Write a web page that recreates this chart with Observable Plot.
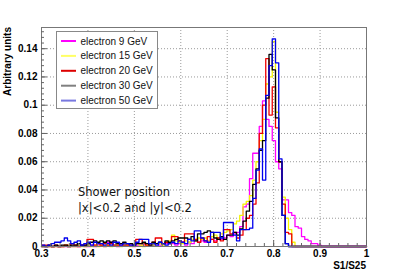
<!DOCTYPE html>
<html>
<head>
<meta charset="utf-8">
<script src="https://cdn.jsdelivr.net/npm/d3@7"></script>
<script src="https://cdn.jsdelivr.net/npm/@observablehq/plot@0.6"></script>
<style>
  html, body { margin: 0; padding: 0; background: #fff; }
  #chart { width: 407px; height: 275px; }
</style>
</head>
<body>
<div id="chart"></div>
<script>
// ---- data (bin contents, bins of width 0.007 starting at 0.3) ----
const binStart = 0.3;
const binWidth = 0.007;

const seriesNames = ["electron 9 GeV", "electron 15 GeV", "electron 20 GeV", "electron 30 GeV", "electron 50 GeV"];
const lineColors = ["#ff00ff", "#f4f400", "#ee0000", "#000000", "#0000ee"];
const legendColors = ["#ff00ff", "#ffff66", "#dd0000", "#808080", "#7878e0"];

const e9 = [
  0, 0, 0.001, 0, 0, 0, 0, 0, 0.001, 0,
  0, 0, 0.001, 0, 0, 0.001, 0, 0.001, 0.001, 0,
  0.003, 0.003, 0.001, 0, 0.001, 0.001, 0.002, 0.001, 0, 0.001,
  0.001, 0.001, 0.002, 0.001, 0.001, 0.002, 0.001, 0.002, 0.002, 0.002,
  0.002, 0.001, 0.002, 0.003, 0.001, 0.003, 0.002, 0.004, 0.003, 0.004,
  0.003, 0.004, 0.005, 0.004, 0.006, 0.005, 0.006, 0.008, 0.007, 0.009,
  0.010, 0.014, 0.028, 0.030, 0.048, 0.066, 0.066, 0.085, 0.103, 0.090,
  0.085, 0.075, 0.060, 0.055, 0.033, 0.033, 0.024, 0.022, 0.014, 0.013,
  0.007, 0.005, 0.004, 0.002, 0.002, 0.001, 0, 0, 0, 0,
  0, 0, 0, 0, 0, 0, 0, 0, 0, 0
];
const e15 = [
  0, 0, 0, 0, 0, 0, 0, 0.001, 0.001, 0,
  0, 0.001, 0, 0, 0.001, 0, 0.001, 0, 0.001, 0,
  0.001, 0, 0.001, 0.001, 0, 0.001, 0.001, 0, 0.001, 0.002,
  0.001, 0, 0.001, 0.002, 0.001, 0.002, 0.002, 0.001, 0.003, 0.004,
  0.008, 0.004, 0.003, 0.002, 0.004, 0.003, 0.005, 0.004, 0.006, 0.005,
  0.006, 0.004, 0.007, 0.008, 0.006, 0.009, 0.010, 0.011, 0.012, 0.016,
  0.018, 0.022, 0.030, 0.032, 0.036, 0.047, 0.060, 0.075, 0.090, 0.115,
  0.120, 0.145, 0.095, 0.060, 0.035, 0.020, 0.012, 0.003, 0, 0,
  0, 0, 0, 0, 0, 0, 0, 0, 0, 0,
  0, 0, 0, 0, 0, 0, 0, 0, 0, 0
];
const e20 = [
  0.001, 0.001, 0, 0, 0.001, 0, 0, 0.001, 0, 0.002,
  0.001, 0, 0.001, 0.001, 0.005, 0.005, 0.001, 0.002, 0.001, 0.002,
  0.001, 0.002, 0.001, 0.001, 0.002, 0.001, 0.001, 0.002, 0.001, 0.005,
  0.005, 0.002, 0.001, 0.002, 0.003, 0.006, 0.006, 0.002, 0.003, 0.002,
  0.007, 0.007, 0.004, 0.003, 0.009, 0.009, 0.009, 0.005, 0.003, 0.006,
  0.004, 0.007, 0.005, 0.003, 0.006, 0.004, 0.012, 0.012, 0.009, 0.010,
  0.006, 0.008, 0.012, 0.020, 0.022, 0.030, 0.045, 0.080, 0.100, 0.133,
  0.093, 0.113, 0.084, 0.060, 0.030, 0.010, 0.009, 0, 0, 0,
  0, 0, 0, 0, 0, 0, 0, 0, 0, 0,
  0, 0, 0, 0, 0, 0, 0, 0, 0, 0
];
const e30 = [
  0, 0, 0.001, 0, 0.001, 0, 0.001, 0.001, 0, 0.001,
  0.001, 0.002, 0.001, 0.001, 0.002, 0.003, 0.004, 0.003, 0.004, 0.003,
  0.004, 0.003, 0.004, 0.002, 0.002, 0.003, 0.002, 0.002, 0.001, 0.002,
  0.002, 0.003, 0.002, 0.001, 0.003, 0.002, 0.003, 0.002, 0.004, 0.003,
  0.004, 0.005, 0.006, 0.006, 0.006, 0.005, 0.007, 0.004, 0.009, 0.009,
  0.010, 0.011, 0.010, 0.006, 0.005, 0.007, 0.005, 0.008, 0.008, 0.010,
  0.008, 0.0125, 0.018, 0.025, 0.032, 0.044, 0.055, 0.068, 0.075, 0.105,
  0.136, 0.125, 0.091, 0.060, 0.022, 0.002, 0, 0, 0, 0,
  0, 0, 0, 0, 0, 0, 0, 0, 0, 0,
  0, 0, 0, 0, 0, 0, 0, 0, 0, 0
];
const e50 = [
  0.001, 0, 0.001, 0.002, 0.003, 0.003, 0.004, 0.006, 0.004, 0.002,
  0.003, 0.004, 0.001, 0.002, 0.003, 0.001, 0.003, 0.002, 0.002, 0.001,
  0.002, 0.001, 0.003, 0.003, 0.001, 0.002, 0.002, 0.001, 0.001, 0.003,
  0.005, 0.005, 0.005, 0.002, 0.002, 0.001, 0.003, 0.002, 0.001, 0.002,
  0.003, 0.002, 0.004, 0.003, 0.002, 0.005, 0.004, 0.011, 0.011, 0.006,
  0.004, 0.003, 0.010, 0.010, 0.010, 0.006, 0.017, 0.017, 0.017, 0.008,
  0.004, 0.012, 0.012, 0.012, 0.013, 0.034, 0.054, 0.069, 0.047, 0.107,
  0.128, 0.147, 0.130, 0.062, 0.022, 0.002, 0, 0, 0, 0,
  0, 0, 0, 0, 0, 0, 0, 0, 0, 0,
  0, 0, 0, 0, 0, 0, 0, 0, 0, 0
];
const seriesValues = [e9, e15, e20, e30, e50];

const xMajorTicks = [0.3, 0.4, 0.5, 0.6, 0.7, 0.8, 0.9, 1];
const xTickLabels = ["0.3", "0.4", "0.5", "0.6", "0.7", "0.8", "0.9", "1"];
const yMajorTicks = [0, 0.02, 0.04, 0.06, 0.08, 0.1, 0.12, 0.14];
const yTickLabels = ["0", "0.02", "0.04", "0.06", "0.08", "0.1", "0.12", "0.14"];
const xTitle = "S1/S25";
const yTitle = "Arbitrary units";
const noteLines = ["Shower position", "|x|<0.2 and |y|<0.2"];

// ---- build table ----
const rows = [];
seriesValues.forEach((vals, s) => {
  vals.forEach((v, k) => rows.push({series: seriesNames[s], x: binStart + k * binWidth, y: v}));
  rows.push({series: seriesNames[s], x: binStart + vals.length * binWidth, y: vals[vals.length - 1]});
});

const xMinor = d3.range(0.3, 1.0001, 0.02);
const yMinor = d3.range(0, 0.155, 0.004);
const xLab = new Map(xMajorTicks.map((t, i) => [t, xTickLabels[i]]));
const yLab = new Map(yMajorTicks.map((t, i) => [t, yTickLabels[i]]));

const W = 407, H = 275, mL = 41, mR = 41, mT = 27, mB = 29;

const chart = Plot.plot({
  width: W, height: H,
  marginLeft: mL, marginRight: mR, marginTop: mT, marginBottom: mB,
  x: {domain: [0.3, 1]},
  y: {domain: [0, 0.155]},
  style: {fontFamily: "Liberation Sans, Arial, sans-serif", fontSize: "10px", fontWeight: "bold", background: "#fff", color: "#000"},
  marks: [
    Plot.gridX(xMajorTicks.slice(1, -1), {stroke: "#9a9a9a", strokeOpacity: 1, strokeDasharray: "1,2"}),
    Plot.gridY(yMajorTicks.slice(1), {stroke: "#9a9a9a", strokeOpacity: 1, strokeDasharray: "1,2"}),
    ...seriesNames.map((name, s) => Plot.lineY(rows.filter(r => r.series === name), {
      x: "x", y: "y", curve: "step-after", stroke: lineColors[s], strokeWidth: 1.3
    })),
    Plot.frame({stroke: "#777"}),
    Plot.axisY(yMinor, {tickSize: -3, tickFormat: () => "", label: null, stroke: "#666"}),
    Plot.axisY(yMajorTicks, {tickSize: -6, tickFormat: () => "", label: null, stroke: "#666"}),
    Plot.axisY(yMajorTicks, {tickSize: 0, tickPadding: 4, tickFormat: d => yLab.get(d), label: null}),
    Plot.axisX(xMinor, {tickSize: -3, tickFormat: () => "", label: null, stroke: "#666"}),
    Plot.axisX(xMajorTicks, {tickSize: -6, tickFormat: () => "", label: null, stroke: "#666"}),
    Plot.axisX(xMajorTicks, {tickSize: 0, tickPadding: 3, tickFormat: d => xLab.get(d), label: null})
  ]
});
document.getElementById("chart").appendChild(chart);

// ---- titles, legend, annotation ----
const svg = d3.select(chart);
svg.append("text")
  .attr("transform", `translate(11,${mT}) rotate(-90)`)
  .attr("text-anchor", "end")
  .style("font", "bold 10px 'Liberation Sans', Arial, sans-serif")
  .text(yTitle);
svg.append("text")
  .attr("x", W - mR).attr("y", 269)
  .attr("text-anchor", "end")
  .style("font", "bold 10px 'Liberation Sans', Arial, sans-serif")
  .text(xTitle);

const lg = svg.append("g");
lg.append("rect").attr("x", 56.5).attr("y", 31.5).attr("width", 101).attr("height", 77)
  .attr("fill", "#fff").attr("stroke", "#888");
seriesNames.forEach((name, i) => {
  const yy = 41 + i * 14.9;
  lg.append("line").attr("x1", 61).attr("x2", 76).attr("y1", yy).attr("y2", yy)
    .attr("stroke", legendColors[i]).attr("stroke-width", 2);
  lg.append("text").attr("x", 80.5).attr("y", yy).attr("dy", "0.35em")
    .attr("text-anchor", "start")
    .style("font", "normal 10px 'Liberation Sans', Arial, sans-serif")
    .attr("fill", "#111")
    .text(name);
});

noteLines.forEach((t, i) => {
  svg.append("text").attr("x", 78).attr("y", 196 + i * 15.8)
    .attr("text-anchor", "start")
    .style("font", "normal 11.5px 'DejaVu Sans', sans-serif")
    .attr("fill", "#111")
    .text(t);
});
</script>
</body>
</html>
